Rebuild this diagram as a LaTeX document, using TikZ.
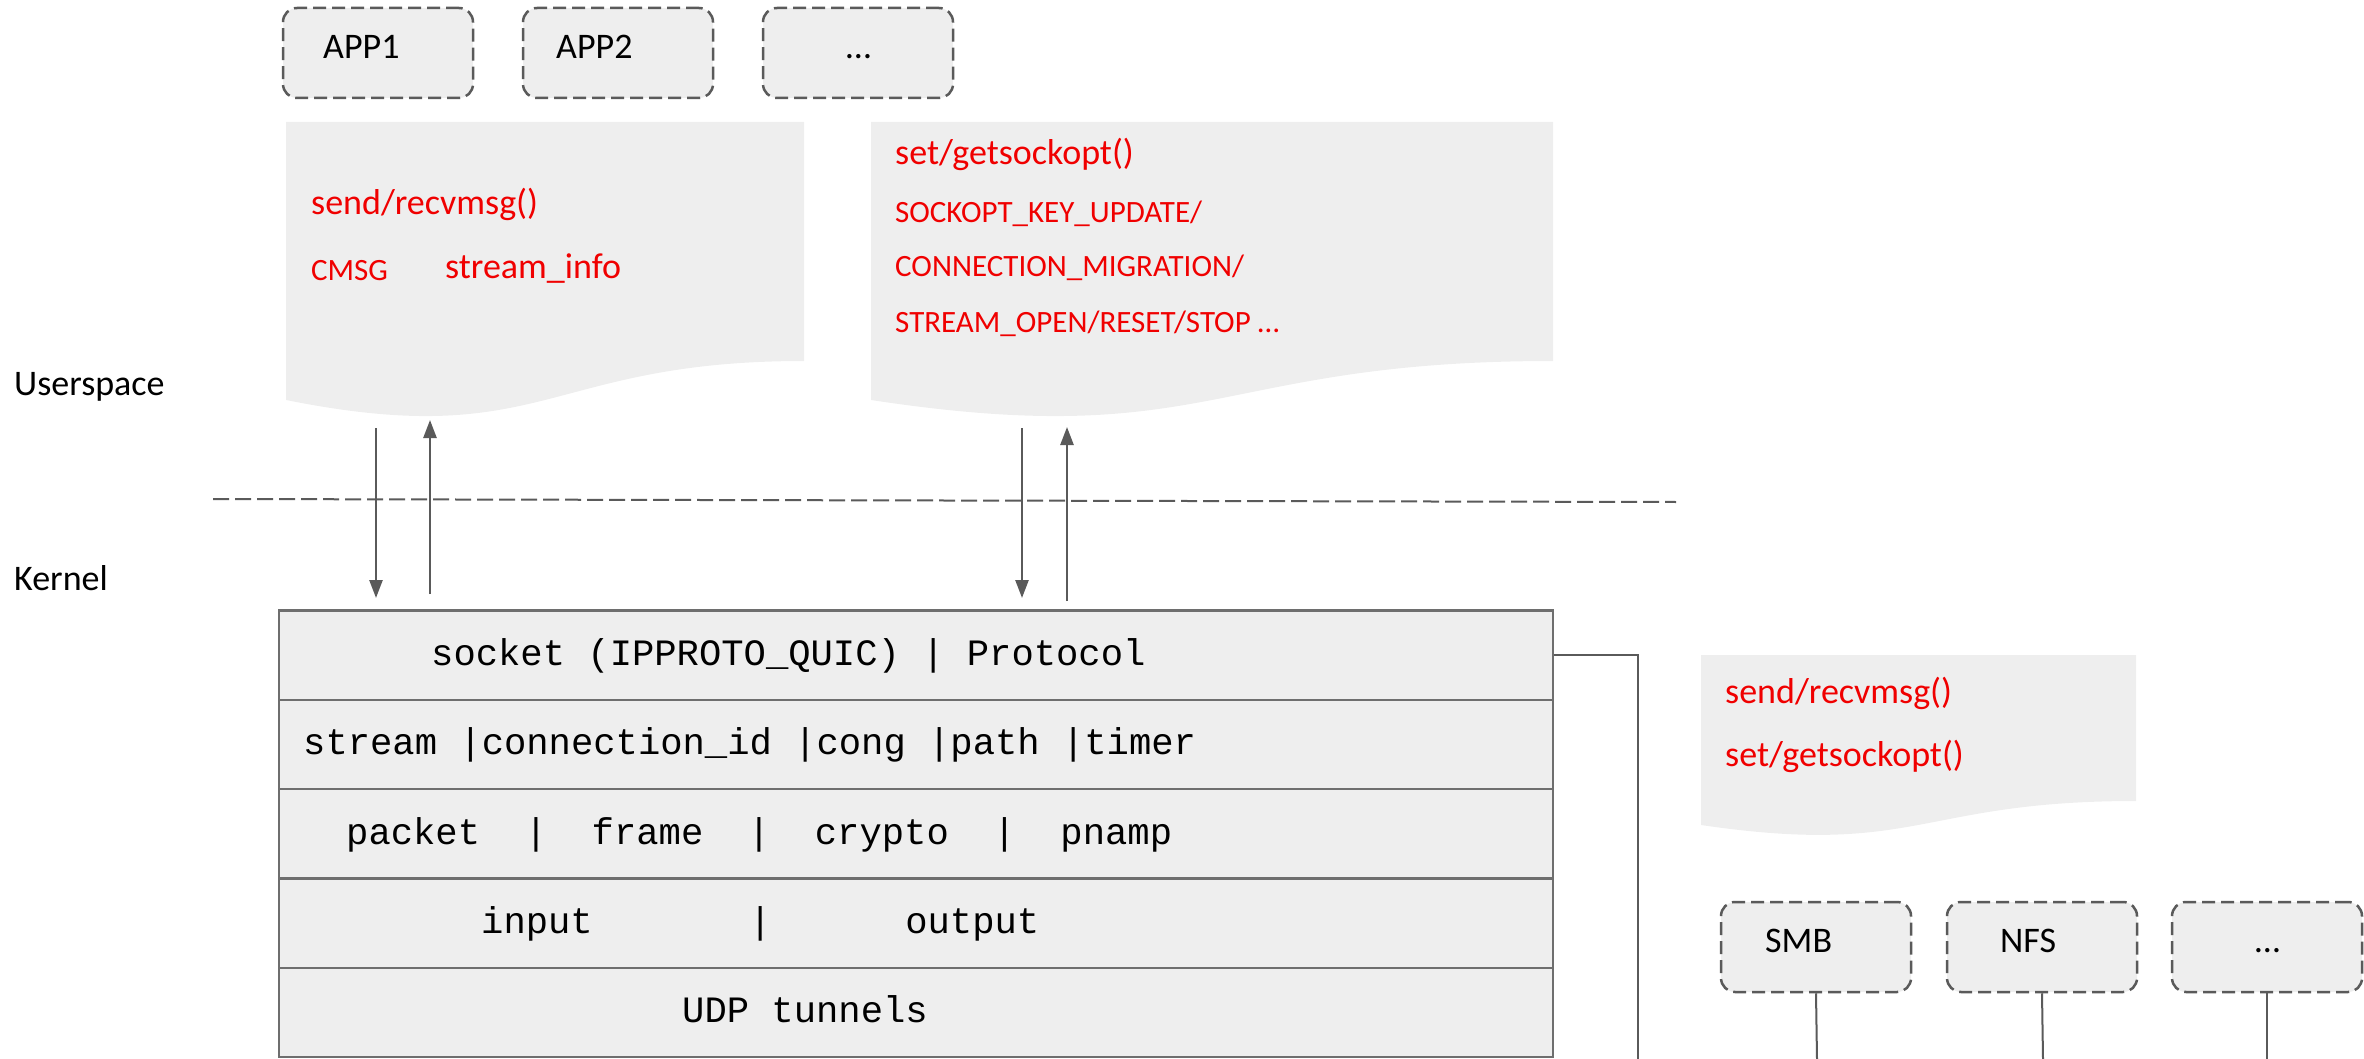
\documentclass[tikz,border=0pt]{standalone}
\usepackage{fontspec}
\setmainfont{Carlito}
\setmonofont{Liberation Mono}
\usetikzlibrary{arrows.meta}
\definecolor{boxfill}{HTML}{EEEEEE}
\definecolor{edgegray}{HTML}{6E6E6E}
\definecolor{conn}{HTML}{5A5A5A}
\definecolor{redtxt}{HTML}{F00000}
\begin{document}
\begin{tikzpicture}[x=1pt,y=-1pt,
  appbox/.style={draw=conn, dash pattern=on 13pt off 6pt, line width=2.5pt, fill=boxfill,
    rounded corners=14pt, minimum width=190pt, minimum height=90pt, inner sep=0pt},
  rowbox/.style={draw=edgegray, line width=2.5pt, fill=boxfill, minimum width=1274pt,
    minimum height=89.3pt, inner sep=0pt},
  blk/.style={anchor=base west, inner sep=0pt, text=black, font=\fontsize{36}{43}\selectfont},
  redbig/.style={anchor=base west, inner sep=0pt, text=redtxt, font=\fontsize{36}{43}\selectfont},
  redsmall/.style={anchor=base west, inner sep=0pt, text=redtxt, font=\fontsize{31}{37}\selectfont},
  mono/.style={anchor=base west, inner sep=0pt, text=black, font=\ttfamily\fontsize{37.2}{44}\selectfont},
  arr/.style={draw=conn, line width=2.5pt, -{Triangle[width=13pt,length=18pt]}},
  conline/.style={draw=conn, line width=2pt},
  docfill/.style={fill=boxfill}
]
\useasboundingbox (0,0) rectangle (2364,1059);

% document shapes
\fill[docfill] (286,122) -- (804,122) -- (804,361) .. controls (545,361) and (545,452) .. (286,400) -- cycle;
\fill[docfill] (871,122) -- (1553,122) -- (1553,361) .. controls (1212,361) and (1212,452) .. (871,400) -- cycle;
\fill[docfill] (1701,655) -- (2136,655) -- (2136,801) .. controls (1918,801) and (1918,857) .. (1701,825) -- cycle;

% app boxes
\node[appbox] (app1) at (378,53) {};
\node[appbox] (app2) at (618,53) {};
\node[appbox] (app3) at (858,53) {};
\node[blk] (app1t) at (323,59) {APP1};
\node[blk] (app2t) at (556,59) {APP2};
\node[blk] (app3t) at (846,59) {…};

% left doc texts
\node[redbig] (sr1) at (311,215) {send/recvmsg()};
\node[redsmall] (cmsg) at (311,281) {CMSG};
\node[redbig] (sinfo) at (445,279) {stream\_info};

% right doc texts
\node[redbig] (sg1) at (895,165) {set/getsockopt()};
\node[redsmall] (so1) at (895,223) {SOCKOPT\_KEY\_UPDATE/};
\node[redsmall] (so2) at (895,277) {CONNECTION\_MIGRATION/};
\node[redsmall] (so3) at (895,332) {STREAM\_OPEN/RESET/STOP …};

% small doc texts
\node[redbig] (sr2) at (1725,703) {send/recvmsg()};
\node[redbig] (sg2) at (1725,766) {set/getsockopt()};

% side labels
\node[blk] (user) at (14,395) {Userspace};
\node[blk] (kern) at (14,590) {Kernel};

% divider
\draw[conn, dash pattern=on 16pt off 6pt, line width=2pt] (213,499) -- (1676,502);

% main stack
\node[rowbox] (r1) at (916,655.2) {};
\node[rowbox] (r2) at (916,744.5) {};
\node[rowbox] (r3) at (916,833.8) {};
\node[rowbox] (r4) at (916,923.1) {};
\node[rowbox] (r5) at (916,1012.4) {};
\node[mono] (t1) at (431,665) {socket (IPPROTO\_QUIC) | Protocol};
\node[mono] (t2) at (303,754.5) {stream |connection\_id |cong |path |timer};
\node[mono] (t3) at (346,844) {packet~~|~~frame~~|~~crypto~~|~~pnamp};
\node[mono] (t4) at (481,933) {input~~~~~~~|~~~~~~output};
\node[mono] (t5) at (682,1022) {UDP tunnels};

% arrows
\coordinate (a1s) at (376,428); \coordinate (a1e) at (376,598);
\coordinate (a2s) at (430,594); \coordinate (a2e) at (430,420);
\coordinate (a3s) at (1022,428); \coordinate (a3e) at (1022,598);
\coordinate (a4s) at (1067,601); \coordinate (a4e) at (1067,427);
\draw[arr] (a1s) -- (a1e);
\draw[arr] (a2s) -- (a2e);
\draw[arr] (a3s) -- (a3e);
\draw[arr] (a4s) -- (a4e);

% right connector
\coordinate (rc) at (1638,1059);
\draw[conline] (r1.east) -| (rc);

% bottom boxes
\node[appbox] (smb) at (1816,947) {};
\node[appbox] (nfs) at (2042,947) {};
\node[appbox] (etc) at (2267,947) {};
\node[blk] (smbt) at (1765,952) {SMB};
\node[blk] (nfst) at (2000,952) {NFS};
\node[blk] (etct) at (2255,952) {…};
\coordinate (smbb) at (1817,1059);
\coordinate (nfsb) at (2043,1059);
\coordinate (etcb) at (2267,1059);
\draw[conline] (smb.south) -- (smbb);
\draw[conline] (nfs.south) -- (nfsb);
\draw[conline] (etc.south) -- (etcb);
\end{tikzpicture}
\end{document}
